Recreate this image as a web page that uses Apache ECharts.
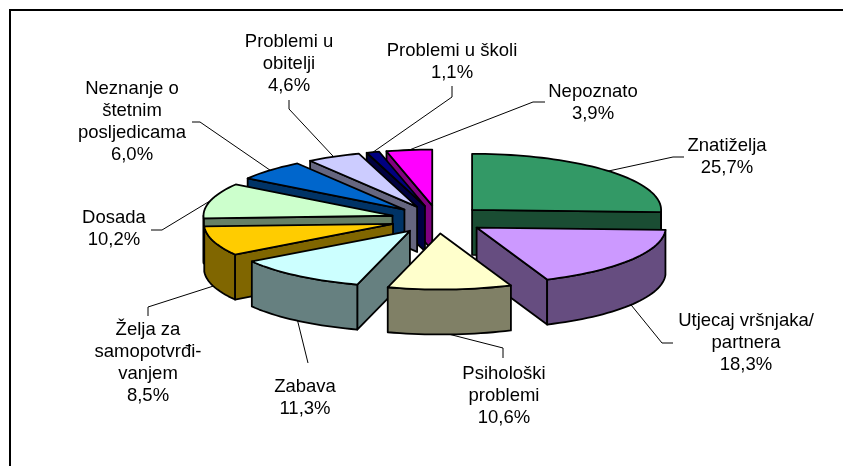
<!DOCTYPE html>
<html>
<head>
<meta charset="utf-8">
<style>html,body{margin:0;padding:0;background:#fff}#c{width:843px;height:466px}</style>
<script src="https://cdn.jsdelivr.net/npm/echarts@6/dist/echarts.min.js"></script>
</head>
<body>
<div id="c"></div>
<script>
// Data
var categories = ['Znatiželja','Utjecaj vršnjaka/\npartnera','Psihološki\nproblemi','Zabava','Želja za\nsamopotvrđi-\nvanjem','Dosada','Neznanje o\nštetnim\nposljedicama','Problemi u\nobitelji','Problemi u školi','Nepoznato'];
var values = [25.7,18.3,10.6,11.3,8.5,10.2,6.0,4.6,1.1,3.9];
var valueLabels = ['25,7%','18,3%','10,6%','11,3%','8,5%','10,2%','6,0%','4,6%','1,1%','3,9%'];
// Colours
var topColors = ['#339966','#CC99FF','#FFFFCC','#CCFFFF','#FFCC00','#CCFFCC','#0066CC','#CCCCFF','#000080','#FF00FF'];
var wallColors = ['#1A4D33','#664D80','#808066','#668080','#806600','#668066','#003366','#666680','#000040','#800080'];
// Layout
var CX = 438, CY = 219.5, RX = 189, RY = 56, H = 45, EXPLODE = 0.25;
var labelCenters = [[727,157],[746,343],[504,396],[305,398],[148,363],[114,229],[132,122],[289,64],[452,62],[593,103]];
var leaderElbows = [
  [[673,157],[684,157]],
  [[662,343],[673,343]],
  [[503,348],[503,358]],
  [[308,363]],
  [[148,307],[148,316]],
  [[162,230],[151,230]],
  [[200,122],[192,122]],
  [[289,109],[289,100]],
  [[452,97],[452,86]],
  [[533,102],[545,102]]
];
var FONT = 'Liberation Sans, Arial, sans-serif', FONT_SIZE = 18.5, LINE_H = 22;

var total = values.reduce(function(a,b){return a+b;},0);
var D = Math.PI/180;
function angles(i){
  var s = 0;
  for (var k=0;k<i;k++) s += values[k];
  return [s/total*360, (s+values[i])/total*360];
}
function apex(i){
  var a = angles(i), m = (a[0]+a[1])/2*D;
  return [CX+EXPLODE*RX*Math.sin(m), CY-EXPLODE*RY*Math.cos(m)];
}
function rim(c,a){ return [c[0]+RX*Math.sin(a*D), c[1]-RY*Math.cos(a*D)]; }
function down(p){ return [p[0],p[1]+H]; }
function arcPts(c,a0,a1){
  var pts=[], n=Math.max(2,Math.ceil((a1-a0)/2));
  for (var k=0;k<=n;k++) pts.push(rim(c,a0+(a1-a0)*k/n));
  return pts;
}
function poly(points,fill){
  return {type:'polygon',shape:{points:points},style:{fill:fill,stroke:'#000',lineWidth:1.8,lineJoin:'round'}};
}
// paint back to front
var drawOrder = values.map(function(_,i){return i;}).sort(function(p,q){
  var ap=angles(p),aq=angles(q);
  return Math.cos((aq[0]+aq[1])/2*D) - Math.cos((ap[0]+ap[1])/2*D);
});

function renderSlice(params,api){
  var i = api.value(0), a = angles(i), c = apex(i), kids=[], w = wallColors[i];
  if (Math.sin(a[0]*D) < -1e-6){
    var p0 = rim(c,a[0]);
    kids.push(poly([c,p0,down(p0),down(c)],w));
  }
  if (Math.sin(a[1]*D) > 1e-6){
    var p1 = rim(c,a[1]);
    kids.push(poly([c,p1,down(p1),down(c)],w));
  }
  var f0 = Math.max(a[0],90), f1 = Math.min(a[1],270);
  if (f1 > f0){
    var top = arcPts(c,f0,f1);
    kids.push(poly(top.concat(top.slice().reverse().map(down)),w));
  }
  kids.push(poly([c].concat(arcPts(c,a[0],a[1])),topColors[i]));
  return {type:'group',children:kids};
}
function renderLabel(params,api){
  var i = api.value(0), a = angles(i), m = (a[0]+a[1])/2, c = apex(i);
  var p = rim(c,m);
  if (m > 90 && m < 270) p = down(p);
  return {type:'group',children:[
    {type:'polyline',shape:{points:[p].concat(leaderElbows[i])},style:{fill:null,stroke:'#000',lineWidth:1}},
    {type:'text',style:{text:categories[i]+'\n'+valueLabels[i],x:labelCenters[i][0],y:labelCenters[i][1],align:'center',verticalAlign:'middle',fontFamily:FONT,fontSize:FONT_SIZE,lineHeight:LINE_H,fill:'#000'}}
  ]};
}
var chart = echarts.init(document.getElementById('c'));
chart.setOption({
  animation:false,
  backgroundColor:'#fff',
  graphic:[
    {type:'line',shape:{x1:10,y1:10,x2:843,y2:10},style:{stroke:'#000',lineWidth:2}},
    {type:'line',shape:{x1:10,y1:9,x2:10,y2:466},style:{stroke:'#000',lineWidth:2}}
  ],
  series:[
    {type:'custom',coordinateSystem:'none',silent:true,z:3,renderItem:renderLabel,
     data:values.map(function(v,i){return [i,v];})},
    {type:'custom',coordinateSystem:'none',silent:true,z:4,renderItem:renderSlice,
     data:drawOrder.map(function(i){return [i,values[i]];})}
  ]
});
</script>
</body>
</html>
